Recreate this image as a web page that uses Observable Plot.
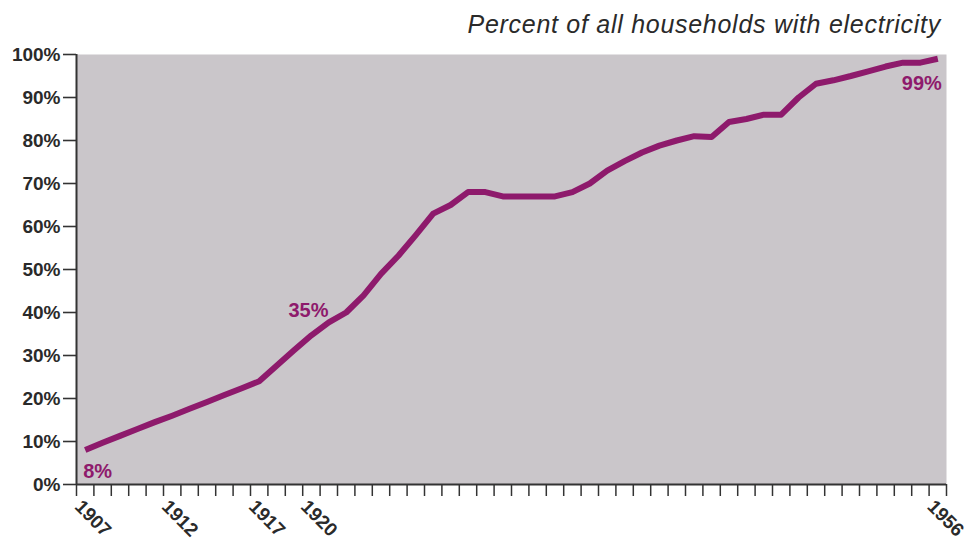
<!DOCTYPE html>
<html>
<head>
<meta charset="utf-8">
<script src="https://cdn.jsdelivr.net/npm/d3@7"></script>
<script src="https://cdn.jsdelivr.net/npm/@observablehq/plot@0.6"></script>
<style>
  html, body { margin: 0; padding: 0; background: #fff; }
  #wrap { width: 968px; height: 541px; position: relative; font-family: "Liberation Sans", Arial, sans-serif; }
  #title { height: 40px; box-sizing: border-box; padding-top: 11px; padding-right: 27px; text-align: right;
           font-style: italic; font-size: 25px; letter-spacing: 0.72px; line-height: 26px; color: #2a2a2a; white-space: nowrap; }
  svg { display: block; overflow: visible; }
</style>
</head>
<body>
<div id="wrap">
  <div id="title">Percent of all households with electricity</div>
  <div id="chart"></div>
</div>
<script>
const years = [1907,1908,1909,1910,1911,1912,1913,1914,1915,1916,1917,1918,1919,1920,1921,1922,1923,1924,1925,1926,1927,1928,1929,1930,1931,1932,1933,1934,1935,1936,1937,1938,1939,1940,1941,1942,1943,1944,1945,1946,1947,1948,1949,1950,1951,1952,1953,1954,1955,1956];
const percent = [8,9.7,11.3,12.9,14.5,16,17.6,19.2,20.8,22.4,24,27.6,31.2,34.7,37.7,40,44,49,53.2,58,63,65,68,68,67,67,67,67,68,70,73,75.2,77.2,78.8,80,81,80.8,84.3,85,86,86,90,93.2,94,95,96.1,97.2,98.1,98.1,99];
const tickLabelYears = [1907, 1912, 1917, 1920, 1956];
const yTicks = [0,10,20,30,40,50,60,70,80,90,100];
const callouts = [
  {year: 1907, value: 8, label: "8%"},
  {year: 1920, value: 35, label: "35%"},
  {year: 1956, value: 99, label: "99%"}
];

const rows = years.map((y, i) => ({year: y, value: percent[i]}));
const purple = "#8e1a6c";
const axisColor = "#333";

const chart = Plot.plot({
  width: 968,
  height: 501,
  marginTop: 14,
  marginBottom: 57,
  marginLeft: 76,
  marginRight: 22,
  style: {fontFamily: "'Liberation Sans', Arial, sans-serif", background: "transparent"},
  x: {domain: [1906.5, 1956.5]},
  y: {domain: [0, 100]},
  marks: [
    Plot.frame({fill: "#cac6ca", stroke: null}),
    Plot.axisY({ticks: yTicks, tickSize: 13, tickPadding: 3, tickFormat: d => d + "%",
      fontSize: 19, fontWeight: "bold", fill: "#2a2a2a", stroke: axisColor, strokeWidth: 1.6, label: null}),
    Plot.axisX({ticks: d3.range(1906.5, 1957, 1), tickSize: 12, tickFormat: () => "", stroke: axisColor, strokeWidth: 1.5, label: null}),
    Plot.axisX({ticks: tickLabelYears, tickSize: 0, tickRotate: 45, tickFormat: d => String(d),
      textAnchor: "start", lineAnchor: "top", dx: -2, dy: 2,
      fontSize: 19, fontWeight: "bold", fill: "#2a2a2a", label: null}),
    Plot.ruleY([0], {stroke: axisColor, strokeWidth: 2}),
    Plot.ruleX([1906.5], {y1: 0, y2: 100, stroke: axisColor, strokeWidth: 2}),
    Plot.line(rows, {x: "year", y: "value", stroke: purple, strokeWidth: 6, strokeLinejoin: "round", strokeLinecap: "butt"}),
    Plot.text([callouts[0]], {x: "year", y: "value", text: "label", fill: purple, fontSize: 20, fontWeight: "bold", textAnchor: "start", dx: -2, dy: 21}),
    Plot.text([callouts[1]], {x: "year", y: "value", text: "label", fill: purple, fontSize: 20, fontWeight: "bold", textAnchor: "middle", dx: -3, dy: -23}),
    Plot.text([callouts[2]], {x: "year", y: "value", text: "label", fill: purple, fontSize: 20, fontWeight: "bold", textAnchor: "end", dx: 4, dy: 25})
  ]
});
document.getElementById("chart").appendChild(chart);
</script>
</body>
</html>
